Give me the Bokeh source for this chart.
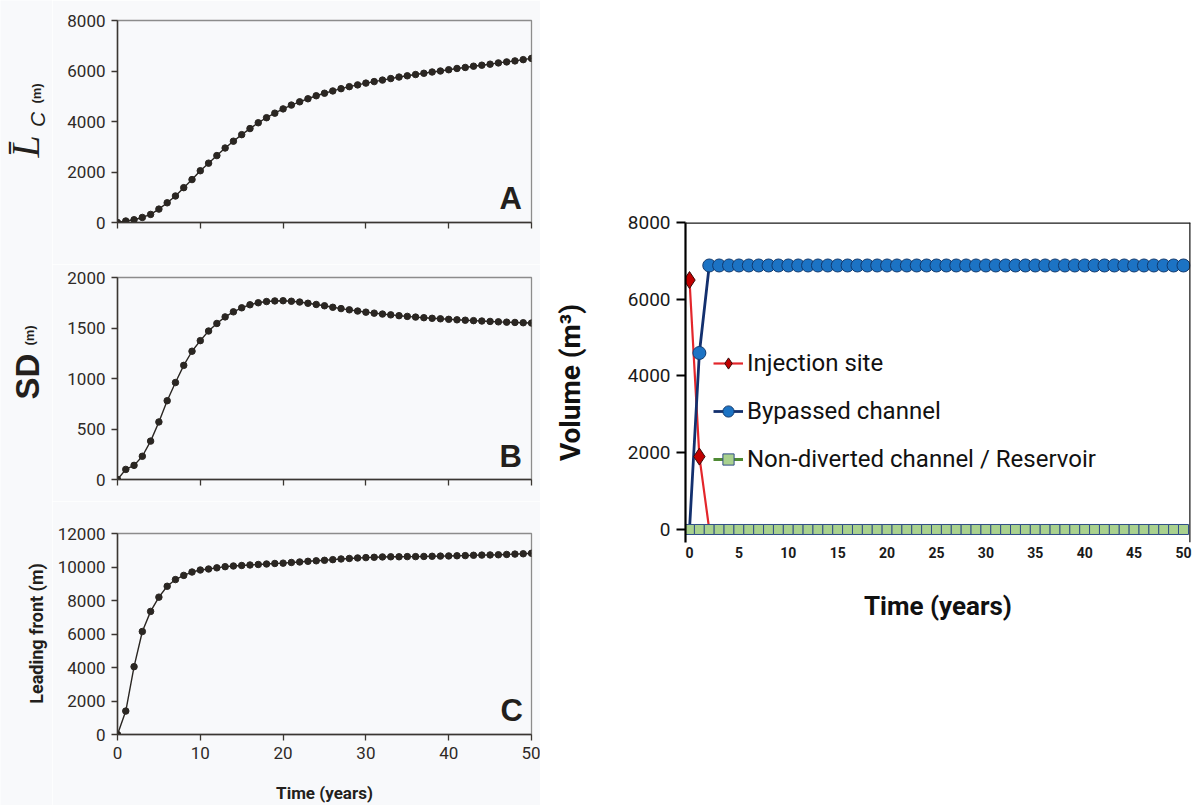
import math
from bokeh.plotting import figure
from bokeh.models import FixedTicker, Legend, LegendItem, ColumnDataSource, Range1d, Span
from bokeh.core.properties import value
from bokeh.layouts import row, column
from bokeh.embed import file_html
from bokeh.resources import INLINE

# ---------------- data ----------------
years = list(range(0, 51))

mean_length = [0, 60, 110, 200, 320, 530, 780, 1050, 1380, 1700, 2050, 2350, 2650, 2950, 3220,
               3480, 3720, 3950, 4150, 4330, 4500, 4650, 4780, 4900, 5020, 5120, 5210, 5300, 5380,
               5450, 5520, 5580, 5640, 5700, 5760, 5810, 5860, 5910, 5960, 6000, 6050, 6100, 6140,
               6190, 6230, 6270, 6320, 6360, 6400, 6450, 6500]

std_dev = [0, 100, 140, 230, 380, 570, 780, 960, 1130, 1270, 1375, 1470, 1545, 1610, 1660, 1700,
           1730, 1750, 1762, 1768, 1770, 1765, 1757, 1745, 1733, 1720, 1705, 1692, 1680, 1668,
           1657, 1647, 1638, 1630, 1622, 1615, 1608, 1602, 1596, 1591, 1586, 1581, 1577, 1573,
           1569, 1565, 1561, 1558, 1555, 1552, 1549]

leading_front = [0, 1400, 4050, 6150, 7350, 8200, 8850, 9250, 9500, 9700, 9820, 9880, 9950, 10020,
                 10060, 10090, 10120, 10150, 10180, 10210, 10230, 10270, 10300, 10340, 10370, 10400,
                 10440, 10480, 10510, 10540, 10560, 10580, 10600, 10610, 10610, 10620, 10620, 10630,
                 10640, 10650, 10660, 10670, 10680, 10700, 10710, 10720, 10730, 10750, 10770, 10790,
                 10820]

injection_site = [6500, 1900, 0, 0, 0, 0, 0, 0, 0, 0, 0, 0, 0, 0, 0, 0, 0, 0, 0, 0, 0, 0, 0, 0, 0, 0,
                  0, 0, 0, 0, 0, 0, 0, 0, 0, 0, 0, 0, 0, 0, 0, 0, 0, 0, 0, 0, 0, 0, 0, 0, 0]
bypassed_channel = [0, 4600, 6880, 6880, 6880, 6880, 6880, 6880, 6880, 6880, 6880, 6880, 6880, 6880,
                    6880, 6880, 6880, 6880, 6880, 6880, 6880, 6880, 6880, 6880, 6880, 6880, 6880,
                    6880, 6880, 6880, 6880, 6880, 6880, 6880, 6880, 6880, 6880, 6880, 6880, 6880,
                    6880, 6880, 6880, 6880, 6880, 6880, 6880, 6880, 6880, 6880, 6880]
non_diverted = [0, 0, 0, 0, 0, 0, 0, 0, 0, 0, 0, 0, 0, 0, 0, 0, 0, 0, 0, 0, 0, 0, 0, 0, 0, 0, 0, 0,
                0, 0, 0, 0, 0, 0, 0, 0, 0, 0, 0, 0, 0, 0, 0, 0, 0, 0, 0, 0, 0, 0, 0]

left_xticks = [0, 10, 20, 30, 40, 50]
yticks_a = [0, 2000, 4000, 6000, 8000]
yticks_b = [0, 500, 1000, 1500, 2000]
yticks_c = [0, 2000, 4000, 6000, 8000, 10000, 12000]
right_xticks = [0, 5, 10, 15, 20, 25, 30, 35, 40, 45, 50]
right_yticks = [0, 2000, 4000, 6000, 8000]

legend_labels = ["Injection site", "Bypassed channel", "Non-diverted channel / Reservoir"]

# ---------------- style ----------------
FONT = "Roboto"
BG = "#f8f9fb"
DARK = "#2a2622"
TXT = "#231f1c"
H_TOTAL = 805
STRIP_W = 52

# ---- strip holding the rotated y titles of the left panels ----
strip = figure(width=STRIP_W, height=H_TOTAL, x_range=Range1d(0, STRIP_W), y_range=Range1d(H_TOTAL, 0),
               output_backend="svg", toolbar_location=None, min_border=0,
               background_fill_color=BG, border_fill_color=BG)
strip.axis.visible = False
strip.grid.visible = False
strip.outline_line_color = None


def strip_text(txt, sx, sy, size, font, style):
    strip.text(x=[sx], y=[sy], text=[txt], text_font=value(font), text_font_style=style,
               text_font_size=size, text_color=TXT, text_align="center", text_baseline="middle",
               angle=math.pi / 2)


strip_text("L\u0304", 25, 146, "40px", "Liberation Serif", "italic")
strip_text("C", 37, 119, "21px", "Liberation Sans", "italic")
strip_text("(m)", 36, 93, "13px", "Liberation Sans", "bold")
strip_text("SD", 27, 376, "33px", "Liberation Sans", "bold")
strip_text("(m)", 29, 335, "13px", "Liberation Sans", "bold")
strip_text("Leading front (m)", 36, 633, "18px", FONT, "bold")


def left_fig(height, top, bottom, ymax, yticks, show_xlabels):
    p = figure(width=540 - STRIP_W, height=height, x_range=Range1d(0, 50), y_range=Range1d(0, ymax),
               output_backend="svg", toolbar_location=None,
               min_border_left=117 - STRIP_W, min_border_right=9, min_border_top=top,
               min_border_bottom=bottom, background_fill_color=BG, border_fill_color=BG)
    p.grid.visible = False
    p.outline_line_color = "#8c8c8c"
    p.outline_line_width = 1.3
    for ax in (p.xaxis[0], p.yaxis[0]):
        ax.axis_line_color = "#3a3632"
        ax.axis_line_width = 1.5
        ax.major_tick_line_color = "#3a3632"
        ax.major_tick_line_width = 1.3
        ax.major_tick_in = 0
        ax.major_tick_out = 6
        ax.minor_tick_line_color = None
        ax.major_label_text_font = FONT
        ax.major_label_text_font_size = "17px"
        ax.major_label_text_color = "#2e2a27"
    p.xaxis.ticker = FixedTicker(ticks=left_xticks)
    p.yaxis.ticker = FixedTicker(ticks=yticks)
    p.yaxis.major_label_standoff = 6
    p.xaxis.major_label_standoff = 6
    if not show_xlabels:
        p.xaxis.major_label_text_color = None
    return p


def add_series(p, values):
    src = ColumnDataSource(dict(x=years, y=values))
    p.line("x", "y", source=src, line_color=DARK, line_width=1.4)
    p.scatter("x", "y", source=src, size=6.5, fill_color=DARK, line_color=DARK)


def letter(p, txt, x, y):
    p.text(x=[x], y=[y], text=[txt], text_font=value("Liberation Sans"), text_font_style="bold",
           text_font_size="31px", text_color=TXT, text_align="center", text_baseline="middle")


# Panel A
pa = left_fig(264, 20, 42, 8000, yticks_a, False)
add_series(pa, mean_length)
letter(pa, "A", 47.5, 950)

# Panel B
pb = left_fig(237, 13, 22, 2000, yticks_b, False)
add_series(pb, std_dev)
letter(pb, "B", 47.5, 229)

# Panel C
pc = left_fig(304, 32, 70, 12000, yticks_c, True)
add_series(pc, leading_front)
letter(pc, "C", 47.6, 1426)
pc.xaxis.axis_label = "Time (years)"
pc.xaxis.axis_label_text_font = FONT
pc.xaxis.axis_label_text_font_style = "bold"
pc.xaxis.axis_label_text_font_size = "17px"
pc.xaxis.axis_label_text_color = TXT
pc.xaxis.axis_label_standoff = 21

left = row(strip, column(pa, pb, pc, spacing=0), spacing=0)

# ---------------- right chart ----------------
XS, XE = -0.405, 50.71
YS, YE = -339, 8000
pr = figure(width=658, height=H_TOTAL, x_range=Range1d(XS, XE), y_range=Range1d(YS, YE),
            output_backend="svg", toolbar_location=None,
            min_border_left=145, min_border_right=8, min_border_top=222, min_border_bottom=263,
            background_fill_color="white", border_fill_color="white")
pr.grid.visible = False
pr.outline_line_color = None

yax = pr.yaxis[0]
yax.ticker = FixedTicker(ticks=right_yticks)
yax.axis_line_color = "black"
yax.axis_line_width = 2.2
yax.major_tick_line_color = "black"
yax.major_tick_line_width = 2.2
yax.major_tick_in = 0
yax.major_tick_out = 9
yax.minor_tick_line_color = None
yax.major_label_text_font = FONT
yax.major_label_text_font_size = "19px"
yax.major_label_text_color = "#1a1a1a"
yax.major_label_standoff = 6
yax.axis_label = "Volume (m\u00b3)"
yax.axis_label_text_font = FONT
yax.axis_label_text_font_style = "bold"
yax.axis_label_text_font_size = "28px"
yax.axis_label_text_color = "#111111"
yax.axis_label_standoff = 38

xax = pr.xaxis[0]
xax.ticker = FixedTicker(ticks=right_xticks)
xax.axis_line_color = None
xax.major_tick_line_color = None
xax.major_tick_out = 0
xax.major_tick_in = 0
xax.minor_tick_line_color = None
xax.major_label_text_font = FONT
xax.major_label_text_font_style = "bold"
xax.major_label_text_font_size = "14px"
xax.major_label_text_color = "#1a1a1a"
xax.major_label_standoff = 4
xax.axis_label = "Time (years)"
xax.axis_label_text_font = FONT
xax.axis_label_text_font_style = "bold"
xax.axis_label_text_font_size = "26px"
xax.axis_label_text_color = "#111111"
xax.axis_label_standoff = 30

pr.add_layout(Span(location=YE, dimension="width", line_color="#1a1a1a", line_width=2.5))
pr.add_layout(Span(location=XE, dimension="height", line_color="#1a1a1a", line_width=2.5))

src_inj = ColumnDataSource(dict(x=years, y=injection_site))
src_byp = ColumnDataSource(dict(x=years, y=bypassed_channel))
src_non = ColumnDataSource(dict(x=years, y=non_diverted))
src_inj_m = ColumnDataSource(dict(x=[x for x, v in zip(years, injection_site) if v > 0],
                                  y=[v for v in injection_site if v > 0]))
src_byp_m = ColumnDataSource(dict(x=[x for x, v in zip(years, bypassed_channel) if v > 0],
                                  y=[v for v in bypassed_channel if v > 0]))

l_inj = pr.line("x", "y", source=src_inj, line_color="#e3262b", line_width=2.2)
l_byp = pr.line("x", "y", source=src_byp, line_color="#13306e", line_width=2.8)
l_non = pr.line("x", "y", source=src_non, line_color="#4f8a34", line_width=3)
m_inj = pr.scatter("x", "y", source=src_inj_m, marker="diamond", size=17,
                   fill_color="#c00000", line_color="#3a0a0a", line_width=1)
m_byp = pr.scatter("x", "y", source=src_byp_m, marker="circle", size=13,
                   fill_color="#1c73c4", line_color="#123a6e", line_width=1)
m_non = pr.scatter("x", "y", source=src_non, marker="square", size=10,
                   fill_color="#a9d18e", line_color="#2f4d86", line_width=1)

legend = Legend(items=[LegendItem(label=legend_labels[0], renderers=[l_inj, m_inj]),
                       LegendItem(label=legend_labels[1], renderers=[l_byp, m_byp]),
                       LegendItem(label=legend_labels[2], renderers=[l_non, m_non])],
                location=(28, 69), border_line_color=None, background_fill_alpha=0,
                glyph_width=30, glyph_height=28, spacing=20, padding=0, margin=0,
                label_standoff=4, label_text_font=FONT, label_text_font_size="24px",
                label_text_color="#111111")
pr.add_layout(legend, "center")

layout = row(left, pr, spacing=0)

open("out.html", "w").write(file_html(layout, INLINE))
